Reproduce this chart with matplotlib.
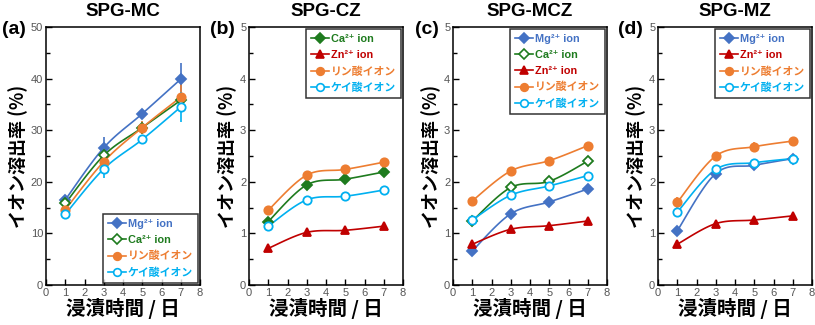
import numpy as np
import matplotlib.pyplot as plt
from matplotlib.lines import Line2D

plt.rcParams['font.family'] = ['Liberation Sans', 'Noto Sans CJK JP', 'DejaVu Sans']

days = [1, 3, 5, 7]

# SPG-MC
mc_mg = [16.5, 26.6, 33.2, 39.9]
mc_ca = [15.8, 25.1, 30.5, 35.8]
mc_p = [14.6, 23.9, 30.5, 36.4]
mc_si = [13.7, 22.5, 28.2, 34.5]
mc_mg_err = [0.6, 2.1, 0.7, 3.2]
mc_ca_err = [0.5, 0.9, 0.7, 1.0]
mc_p_err = [0.5, 1.2, 1.2, 2.5]
mc_si_err = [0.5, 1.7, 0.6, 3.0]

# SPG-CZ
cz_ca = [1.23, 1.94, 2.05, 2.19]
cz_zn = [0.71, 1.02, 1.06, 1.14]
cz_p = [1.45, 2.13, 2.24, 2.38]
cz_si = [1.14, 1.65, 1.72, 1.84]

# SPG-MCZ
mcz_mg = [0.66, 1.38, 1.61, 1.86]
mcz_ca = [1.24, 1.89, 2.01, 2.40]
mcz_zn = [0.79, 1.08, 1.15, 1.24]
mcz_p = [1.63, 2.21, 2.41, 2.70]
mcz_si = [1.26, 1.74, 1.92, 2.12]
mcz_mg_err = [0.04, 0.10, 0.06, 0.08]

# SPG-MZ
mz_mg = [1.05, 2.16, 2.32, 2.45]
mz_zn = [0.79, 1.19, 1.26, 1.34]
mz_p = [1.60, 2.50, 2.68, 2.79]
mz_si = [1.41, 2.24, 2.37, 2.45]
mz_p_err = [0.10, 0.04, 0.10, 0.04]

C_MG = '#4472C4'
C_CA = '#1E7B1E'
C_ZN = '#C00000'
C_P = '#ED7D31'
C_SI = '#00B0F0'

LBL_MG = 'Mg²⁺ ion'
LBL_CA = 'Ca²⁺ ion'
LBL_ZN = 'Zn²⁺ ion'
LBL_P = 'リン酸イオン'
LBL_SI = 'ケイ酸イオン'


def smooth(x, y, n=24):
    # Catmull-Rom curve through the points (end points repeated), like a smoothed Excel line
    x = np.asarray(x, float)
    y = np.asarray(y, float)
    px = np.concatenate([[x[0]], x, [x[-1]]])
    py = np.concatenate([[y[0]], y, [y[-1]]])
    xs, ys = [], []
    t = np.linspace(0, 1, n)
    for i in range(1, len(px) - 2):
        for p, out in ((px, xs), (py, ys)):
            p0, p1, p2, p3 = p[i - 1], p[i], p[i + 1], p[i + 2]
            out.extend(0.5 * ((2 * p1) + (-p0 + p2) * t +
                              (2 * p0 - 5 * p1 + 4 * p2 - p3) * t ** 2 +
                              (-p0 + 3 * p1 - 3 * p2 + p3) * t ** 3))
    return xs, ys


def series(ax, y, color, marker, filled=True, err=None, ms=6):
    sx, sy = smooth(days, y)
    ax.plot(sx, sy, color=color, lw=1.2, zorder=2)
    if err is not None:
        ax.errorbar(days, y, yerr=err, fmt='none', ecolor=color, elinewidth=1.2,
                    capsize=0, zorder=2)
    ax.plot(days, y, ls='none', marker=marker, ms=ms, color=color,
            mfc=color if filled else 'white', mec=color, mew=1.3, zorder=3)


def handle(color, marker, filled=True, ms=5.5):
    return Line2D([], [], color=color, lw=1.2, marker=marker, ms=ms,
                  mfc=color if filled else 'white', mec=color, mew=1.2)


W, H = 815, 325
fig = plt.figure(figsize=(W / 100, H / 100), dpi=100)
lefts = [46, 249, 453, 658]
titles = ['SPG-MC', 'SPG-CZ', 'SPG-MCZ', 'SPG-MZ']
letters = ['(a)', '(b)', '(c)', '(d)']
letter_x = [2, 210, 415, 618]
axes = []
for i, l in enumerate(lefts):
    ax = fig.add_axes([l / W, 1 - 285 / H, 154 / W, 258 / H])
    axes.append(ax)
    ax.set_xlim(0, 8)
    ax.set_xticks(range(0, 9))
    ax.tick_params(axis='both', direction='in', labelsize=8, labelcolor='#555555',
                   length=4, width=1.0, top=False, right=False, pad=2)
    ax.tick_params(axis='y', which='minor', direction='in', length=3, width=1.0)
    for s in ax.spines.values():
        s.set_linewidth(1.1)
    ax.set_xlabel('浸漬時間 / 日', fontsize=14, fontweight='bold', labelpad=0,
                  family=['Noto Sans CJK JP'])
    ax.set_ylabel('イオン溶出率 (%)', fontsize=13, fontweight='bold', labelpad=2,
                  family=['Noto Sans CJK JP'])
    fig.text((l + 77) / W, 1 - 11 / H, titles[i], ha='center', va='center',
             fontsize=13.5, fontweight='bold')
    fig.text(letter_x[i] / W, 1 - 29 / H, letters[i], ha='left', va='center',
             fontsize=14, fontweight='bold')

# (a)
ax = axes[0]
ax.set_ylim(0, 50)
ax.set_yticks(range(0, 51, 10))
ax.set_yticks(range(5, 50, 10), minor=True)
series(ax, mc_mg, C_MG, 'D', err=mc_mg_err, ms=5.5)
series(ax, mc_ca, C_CA, 'D', filled=False, err=mc_ca_err, ms=5.5)
series(ax, mc_p, C_P, 'o', err=mc_p_err)
series(ax, mc_si, C_SI, 'o', filled=False, err=mc_si_err)
hs = [handle(C_MG, 'D', ms=5), handle(C_CA, 'D', False, ms=5),
      handle(C_P, 'o'), handle(C_SI, 'o', False)]
labels = [LBL_MG, LBL_CA, LBL_P, LBL_SI]
cols = [C_MG, C_CA, C_P, C_SI]
legs = [(ax, hs, labels, cols, 'lower right')]

# (b)
ax = axes[1]
series(ax, cz_ca, C_CA, 'D', ms=5.5)
series(ax, cz_zn, C_ZN, '^')
series(ax, cz_p, C_P, 'o')
series(ax, cz_si, C_SI, 'o', filled=False)
legs.append((ax, [handle(C_CA, 'D', ms=5), handle(C_ZN, '^'), handle(C_P, 'o'),
                  handle(C_SI, 'o', False)],
             [LBL_CA, LBL_ZN, LBL_P, LBL_SI], [C_CA, C_ZN, C_P, C_SI], 'upper right'))

# (c)
ax = axes[2]
series(ax, mcz_mg, C_MG, 'D', err=mcz_mg_err, ms=5.5)
series(ax, mcz_ca, C_CA, 'D', filled=False, ms=5.5)
series(ax, mcz_zn, C_ZN, '^')
series(ax, mcz_p, C_P, 'o')
series(ax, mcz_si, C_SI, 'o', filled=False)
legs.append((ax, [handle(C_MG, 'D', ms=5), handle(C_CA, 'D', False, ms=5),
                  handle(C_ZN, '^'), handle(C_P, 'o'), handle(C_SI, 'o', False)],
             [LBL_MG, LBL_CA, LBL_ZN, LBL_P, LBL_SI],
             [C_MG, C_CA, C_ZN, C_P, C_SI], 'upper right'))

# (d)
ax = axes[3]
series(ax, mz_mg, C_MG, 'D', ms=5.5)
series(ax, mz_zn, C_ZN, '^')
series(ax, mz_p, C_P, 'o', err=mz_p_err)
series(ax, mz_si, C_SI, 'o', filled=False)
legs.append((ax, [handle(C_MG, 'D', ms=5), handle(C_ZN, '^'), handle(C_P, 'o'),
                  handle(C_SI, 'o', False)],
             [LBL_MG, LBL_ZN, LBL_P, LBL_SI], [C_MG, C_ZN, C_P, C_SI], 'upper right'))

for ax in axes[1:]:
    ax.set_ylim(0, 5)
    ax.set_yticks(range(0, 6))
    ax.set_yticks(np.arange(0.5, 5, 1), minor=True)

for ax, hs, labels, cols, loc in legs:
    leg = ax.legend(hs, labels, loc=loc, frameon=True, fancybox=False,
                    edgecolor='black', borderaxespad=0.2, handlelength=1.6,
                    handletextpad=0.2, labelspacing=0.55, borderpad=0.45,
                    prop={'family': ['Liberation Sans', 'Noto Sans CJK JP', 'DejaVu Sans'],
                          'weight': 'bold', 'size': 7.8})
    leg.get_frame().set_linewidth(1.1)
    for t, c in zip(leg.get_texts(), cols):
        t.set_color(c)

fig.savefig('out.png', dpi=100)
